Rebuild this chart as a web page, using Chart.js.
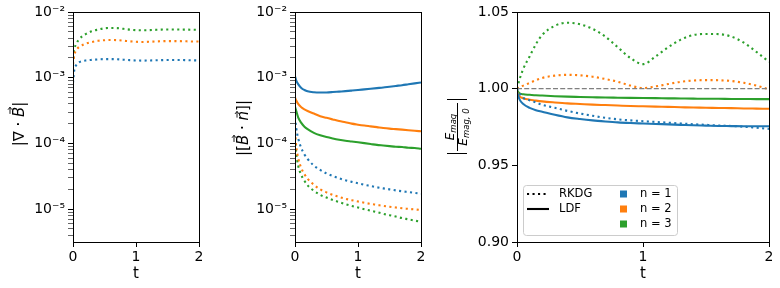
<!DOCTYPE html>
<html>
<head>
<meta charset="utf-8">
<script src="https://cdn.jsdelivr.net/npm/chart.js@4"></script>
<style>
  body { margin: 0; background: #fff; }
  #wrap { position: relative; width: 780px; height: 288px; }
  canvas { position: absolute; top: 0; }
</style>
</head>
<body>
<div id="wrap">
  <canvas id="divB" width="210" height="288" style="left:0"></canvas>
  <canvas id="jumpB" width="208" height="288" style="left:222px"></canvas>
  <canvas id="emag" width="350" height="288" style="left:430px"></canvas>
</div>
<script>
// time samples shared by all curves
const tValues = [0, 0.02, 0.05, 0.1, 0.15, 0.2, 0.3, 0.4, 0.5, 0.6, 0.7, 0.8, 0.9, 1.0,
                 1.1, 1.2, 1.3, 1.4, 1.5, 1.6, 1.7, 1.8, 1.9, 2.0];

// panel 1: |div B|, RKDG only
const divB_rkdg_n1 = [8.4e-4, 1.3e-3, 1.55e-3, 1.72e-3, 1.79e-3, 1.83e-3, 1.87e-3, 1.9e-3, 1.92e-3, 1.92e-3, 1.91e-3, 1.88e-3,
                      1.85e-3, 1.83e-3, 1.82e-3, 1.83e-3, 1.84e-3, 1.85e-3, 1.86e-3, 1.86e-3, 1.86e-3, 1.85e-3, 1.84e-3, 1.83e-3];
const divB_rkdg_n2 = [1.6e-3, 2.2e-3, 2.6e-3, 2.96e-3, 3.15e-3, 3.3e-3, 3.5e-3, 3.65e-3, 3.72e-3, 3.75e-3, 3.73e-3, 3.66e-3,
                      3.58e-3, 3.52e-3, 3.5e-3, 3.52e-3, 3.56e-3, 3.59e-3, 3.61e-3, 3.61e-3, 3.6e-3, 3.58e-3, 3.56e-3, 3.55e-3];
const divB_rkdg_n3 = [2.0e-3, 2.7e-3, 3.25e-3, 3.88e-3, 4.3e-3, 4.6e-3, 5.1e-3, 5.4e-3, 5.65e-3, 5.7e-3, 5.68e-3, 5.55e-3,
                      5.4e-3, 5.3e-3, 5.28e-3, 5.3e-3, 5.35e-3, 5.4e-3, 5.42e-3, 5.42e-3, 5.41e-3, 5.39e-3, 5.37e-3, 5.35e-3];

// panel 2: |[B . n]|
const jump_rkdg_n1 = [2.5e-4, 1.7e-4, 1.2e-4, 8.5e-5, 6.8e-5, 5.8e-5, 4.6e-5, 3.95e-5, 3.5e-5, 3.2e-5, 2.95e-5, 2.75e-5,
                      2.6e-5, 2.48e-5, 2.35e-5, 2.25e-5, 2.15e-5, 2.07e-5, 2.0e-5, 1.93e-5, 1.87e-5, 1.82e-5, 1.77e-5, 1.72e-5];
const jump_rkdg_n2 = [1.5e-4, 9e-5, 6e-5, 4.2e-5, 3.4e-5, 2.9e-5, 2.35e-5, 2.0e-5, 1.8e-5, 1.65e-5, 1.53e-5, 1.44e-5,
                      1.37e-5, 1.31e-5, 1.25e-5, 1.2e-5, 1.16e-5, 1.12e-5, 1.09e-5, 1.06e-5, 1.03e-5, 1.01e-5, 9.9e-6, 9.7e-6];
const jump_rkdg_n3 = [1.2e-4, 7e-5, 4.6e-5, 3.3e-5, 2.7e-5, 2.3e-5, 1.9e-5, 1.65e-5, 1.5e-5, 1.38e-5, 1.28e-5, 1.19e-5,
                      1.12e-5, 1.06e-5, 1.0e-5, 9.5e-6, 9.0e-6, 8.5e-6, 8.1e-6, 7.7e-6, 7.3e-6, 7.0e-6, 6.7e-6, 6.4e-6];
const jump_ldf_n1 = [1.05e-3, 9e-4, 8e-4, 7e-4, 6.5e-4, 6.2e-4, 6.0e-4, 5.95e-4, 5.97e-4, 6.05e-4, 6.15e-4, 6.25e-4,
                     6.37e-4, 6.5e-4, 6.65e-4, 6.8e-4, 6.95e-4, 7.1e-4, 7.3e-4, 7.5e-4, 7.7e-4, 7.95e-4, 8.2e-4, 8.45e-4];
const jump_ldf_n2 = [5.0e-4, 4.5e-4, 4.0e-4, 3.55e-4, 3.3e-4, 3.12e-4, 2.85e-4, 2.6e-4, 2.45e-4, 2.32e-4, 2.2e-4, 2.1e-4,
                     2.0e-4, 1.93e-4, 1.87e-4, 1.82e-4, 1.77e-4, 1.72e-4, 1.68e-4, 1.65e-4, 1.62e-4, 1.59e-4, 1.56e-4, 1.53e-4];
const jump_ldf_n3 = [3.6e-4, 3.1e-4, 2.5e-4, 2.05e-4, 1.8e-4, 1.65e-4, 1.45e-4, 1.33e-4, 1.25e-4, 1.19e-4, 1.14e-4, 1.1e-4,
                     1.07e-4, 1.04e-4, 1.01e-4, 9.8e-5, 9.5e-5, 9.3e-5, 9.1e-5, 8.9e-5, 8.8e-5, 8.6e-5, 8.5e-5, 8.3e-5];

// panel 3: E_mag / E_mag,0
const emag_rkdg_n1 = [1.000, 0.997, 0.994, 0.9925, 0.991, 0.9895, 0.9875, 0.9855, 0.9838, 0.9823, 0.981, 0.980,
                      0.9793, 0.9788, 0.9783, 0.9778, 0.9773, 0.9768, 0.9764, 0.976, 0.9757, 0.9752, 0.9745, 0.9738];
const emag_rkdg_n2 = [1.000, 1.001, 1.002, 1.0037, 1.0055, 1.007, 1.0085, 1.009, 1.0087, 1.0078, 1.0063, 1.0045,
                      1.002, 1.0004, 1.0015, 1.003, 1.0045, 1.0053, 1.0056, 1.0055, 1.005, 1.0038, 1.002, 0.9995];
const emag_rkdg_n3 = [1.000, 1.006, 1.013, 1.021, 1.029, 1.035, 1.041, 1.043, 1.042, 1.039, 1.034, 1.027,
                      1.020, 1.016, 1.021, 1.027, 1.032, 1.035, 1.0357, 1.0356, 1.034, 1.030, 1.024, 1.0175];
const emag_ldf_n1 = [0.998, 0.993, 0.990, 0.9875, 0.986, 0.985, 0.983, 0.9813, 0.9802, 0.9793, 0.9786, 0.978,
                     0.9776, 0.9773, 0.977, 0.9767, 0.9764, 0.9761, 0.9759, 0.9757, 0.9756, 0.9755, 0.9755, 0.9755];
const emag_ldf_n2 = [0.998, 0.995, 0.9938, 0.9928, 0.9922, 0.9917, 0.991, 0.9904, 0.99, 0.9896, 0.9893, 0.989,
                     0.9887, 0.9885, 0.9883, 0.9881, 0.9879, 0.9877, 0.9876, 0.9874, 0.9873, 0.9871, 0.987, 0.9869];
const emag_ldf_n3 = [0.999, 0.997, 0.9963, 0.996, 0.9957, 0.9955, 0.9951, 0.9948, 0.9946, 0.9944, 0.9942, 0.9941,
                     0.994, 0.9939, 0.9938, 0.9937, 0.9936, 0.9935, 0.9934, 0.9934, 0.9933, 0.9933, 0.9932, 0.9932];
const emag_reference = [1.0, 1.0];
const emag_reference_t = [0, 2];

// ticks
const xTicks = [0, 1, 2];
const logMajorTicks = [1e-5, 1e-4, 1e-3, 1e-2];
const logTickLabels = ['10⁻⁵', '10⁻⁴', '10⁻³', '10⁻²'];
const emagTicks = [0.90, 0.95, 1.00, 1.05];

// legend text
const styleLabels = ['RKDG', 'LDF'];
const orderLabels = ['n = 1', 'n = 2', 'n = 3'];

const colors = ['#1f77b4', '#ff7f0e', '#2ca02c'];
const DOTTED = [2.1, 3.4];

Chart.defaults.font.family = "'DejaVu Sans', sans-serif";
Chart.defaults.font.size = 14;
Chart.defaults.color = '#000';

function series(values, color, dash, ts) {
    const times = ts || tValues;
    return {
        data: times.map((t, i) => ({ x: t, y: values[i] })),
        borderColor: color,
        borderDash: dash,
        borderWidth: 2.1,
        borderCapStyle: 'butt',
        pointRadius: 0,
        cubicInterpolationMode: 'monotone',
        fill: false
    };
}

// draw text runs rotated by -90deg, centred on (cx, cy); runs with vec get a small arrow on top
function drawRuns(ctx, runs, cx, cy) {
    ctx.save();
    ctx.translate(cx, cy);
    ctx.rotate(-Math.PI / 2);
    let w = 0;
    runs.forEach(r => { ctx.font = r.font; r.w = ctx.measureText(r.text).width; w += r.w; });
    let x = -w / 2;
    ctx.textBaseline = 'middle';
    ctx.fillStyle = '#000';
    ctx.strokeStyle = '#000';
    runs.forEach(r => {
        ctx.font = r.font;
        ctx.fillText(r.text, x, r.dy || 0);
        if (r.vec) {
            const ay = -r.vec;
            const x0 = x + r.w * 0.3, x1 = x + r.w * 0.95;
            ctx.lineWidth = 0.9;
            ctx.beginPath();
            ctx.moveTo(x0, ay); ctx.lineTo(x1, ay);
            ctx.moveTo(x1 - 2.5, ay - 2); ctx.lineTo(x1, ay); ctx.lineTo(x1 - 2.5, ay + 2);
            ctx.stroke();
        }
        x += r.w;
    });
    ctx.restore();
    return w;
}

// full box round the plot, like matplotlib spines
const frame = {
    id: 'frame',
    afterDraw(chart) {
        const { ctx, chartArea: a } = chart;
        ctx.save();
        ctx.strokeStyle = '#000';
        ctx.lineWidth = 1;
        ctx.strokeRect(Math.round(a.left) + 0.5, Math.round(a.top) + 0.5,
                       Math.round(a.right - a.left), Math.round(a.bottom - a.top));
        ctx.restore();
    }
};

function xScale() {
    return {
        type: 'linear',
        min: 0,
        max: 2,
        afterBuildTicks: s => { s.ticks = xTicks.map(v => ({ value: v })); },
        afterFit: s => { s.height = 46; },
        ticks: { padding: 2, maxRotation: 0, callback: v => String(v) },
        grid: { drawOnChartArea: false, drawTicks: true, tickLength: 5, color: '#000' },
        border: { display: false },
        title: { display: true, text: 't', font: { size: 15 }, padding: { top: 0, bottom: 5 } }
    };
}

function logScale() {
    return {
        type: 'logarithmic',
        min: Math.pow(10, -5.5),
        max: 1e-2,
        afterBuildTicks: s => {
            const list = [];
            for (let e = -6; e <= -2; e++) {
                for (let m = 1; m <= 9; m++) {
                    const v = m * Math.pow(10, e);
                    if (v >= s.min * 0.999 && v <= s.max * 1.001) list.push({ value: v });
                }
            }
            s.ticks = list;
        },
        afterFit: s => { s.width = 73; },
        ticks: {
            padding: 3,
            autoSkip: false,
            callback: v => {
                const i = logMajorTicks.findIndex(m => Math.abs(m - v) / m < 1e-6);
                return i >= 0 ? logTickLabels[i] : '';
            }
        },
        grid: {
            drawOnChartArea: false,
            tickLength: 5,
            tickColor: c => {
                const v = c.tick ? c.tick.value : 0;
                return logMajorTicks.some(m => Math.abs(m - v) / m < 1e-6) ? '#000' : '#666';
            }
        },
        border: { display: false }
    };
}

function baseOptions(yScale, padRight) {
    return {
        responsive: false,
        animation: false,
        layout: { padding: { top: 12, right: padRight, left: 0, bottom: 0 } },
        plugins: { legend: { display: false }, tooltip: { enabled: false } },
        scales: { x: xScale(), y: yScale }
    };
}

const italic = "italic 15px 'DejaVu Sans'";
const upright = "15px 'DejaVu Sans'";

new Chart(document.getElementById('divB'), {
    type: 'line',
    data: {
        datasets: [
            series(divB_rkdg_n1, colors[0], DOTTED),
            series(divB_rkdg_n2, colors[1], DOTTED),
            series(divB_rkdg_n3, colors[2], DOTTED)
        ]
    },
    options: baseOptions(logScale(), 11),
    plugins: [frame, {
        id: 'ylabel1',
        afterDraw(chart) {
            drawRuns(chart.ctx, [
                { text: '|∇ · ', font: upright },
                { text: 'B', font: italic, vec: 10 },
                { text: '|', font: upright }
            ], 20, 124);
        }
    }]
});

new Chart(document.getElementById('jumpB'), {
    type: 'line',
    data: {
        datasets: [
            series(jump_rkdg_n1, colors[0], DOTTED),
            series(jump_rkdg_n2, colors[1], DOTTED),
            series(jump_rkdg_n3, colors[2], DOTTED),
            series(jump_ldf_n1, colors[0], []),
            series(jump_ldf_n2, colors[1], []),
            series(jump_ldf_n3, colors[2], [])
        ]
    },
    options: baseOptions(logScale(), 9),
    plugins: [frame, {
        id: 'ylabel2',
        afterDraw(chart) {
            drawRuns(chart.ctx, [
                { text: '|[', font: upright },
                { text: 'B', font: italic, vec: 10 },
                { text: ' · ', font: upright },
                { text: 'n', font: italic, vec: 7 },
                { text: ']|', font: upright }
            ], 22, 128);
        }
    }]
});

const refLine = series(emag_reference, '#808080', [5, 2.2], emag_reference_t);
refLine.borderWidth = 1.3;

new Chart(document.getElementById('emag'), {
    type: 'line',
    data: {
        datasets: [
            refLine,
            series(emag_rkdg_n1, colors[0], DOTTED),
            series(emag_rkdg_n2, colors[1], DOTTED),
            series(emag_rkdg_n3, colors[2], DOTTED),
            series(emag_ldf_n1, colors[0], []),
            series(emag_ldf_n2, colors[1], []),
            series(emag_ldf_n3, colors[2], [])
        ]
    },
    options: baseOptions({
        type: 'linear',
        min: 0.9,
        max: 1.05,
        afterBuildTicks: s => { s.ticks = emagTicks.map(v => ({ value: v })); },
        afterFit: s => { s.width = 87; },
        ticks: { padding: 3, callback: v => v.toFixed(2) },
        grid: { drawOnChartArea: false, tickLength: 5, color: '#000' },
        border: { display: false }
    }, 11),
    plugins: [frame, {
        id: 'fracLabel',
        afterDraw(chart) {
            const ctx = chart.ctx;
            const cx = 27, cy = 127;
            const big = "italic 12px 'DejaVu Sans'";
            const sub = "italic 8.5px 'DejaVu Sans'";
            drawRuns(ctx, [{ text: 'E', font: big }, { text: 'mag', font: sub, dy: 3 }], cx - 6, cy);
            drawRuns(ctx, [{ text: 'E', font: big }, { text: 'mag, 0', font: sub, dy: 3 }], cx + 7, cy);
            ctx.save();
            ctx.strokeStyle = '#000';
            ctx.lineWidth = 1;
            ctx.beginPath();
            ctx.moveTo(cx + 0.5, cy - 24); ctx.lineTo(cx + 0.5, cy + 24);
            ctx.moveTo(cx - 10, cy - 27.5); ctx.lineTo(cx + 10, cy - 27.5);
            ctx.moveTo(cx - 10, cy + 26.5); ctx.lineTo(cx + 10, cy + 26.5);
            ctx.stroke();
            ctx.restore();
        }
    }, {
        id: 'emagLegend',
        afterDraw(chart) {
            const ctx = chart.ctx;
            const bx = 93, by = 185, bw = 154, bh = 50;
            ctx.save();
            ctx.fillStyle = 'rgba(255,255,255,0.8)';
            ctx.strokeStyle = '#cccccc';
            ctx.lineWidth = 1;
            ctx.beginPath();
            ctx.roundRect(bx + 0.5, by + 0.5, bw, bh, 3);
            ctx.fill();
            ctx.stroke();
            ctx.font = "11.5px 'DejaVu Sans'";
            ctx.textBaseline = 'middle';
            ctx.fillStyle = '#000';
            const rows = [194, 209, 224];
            styleLabels.forEach((label, i) => {
                ctx.strokeStyle = '#000';
                ctx.lineWidth = 2.1;
                ctx.setLineDash(i === 0 ? DOTTED : []);
                ctx.beginPath();
                ctx.moveTo(bx + 4, rows[i]);
                ctx.lineTo(bx + 26, rows[i]);
                ctx.stroke();
                ctx.fillText(label, bx + 36, rows[i]);
            });
            ctx.setLineDash([]);
            orderLabels.forEach((label, i) => {
                ctx.fillStyle = colors[i];
                ctx.fillRect(bx + 97, rows[i] - 3.5, 7, 7);
                ctx.fillStyle = '#000';
                ctx.fillText(label, bx + 117, rows[i]);
            });
            ctx.restore();
        }
    }]
});
</script>
</body>
</html>
